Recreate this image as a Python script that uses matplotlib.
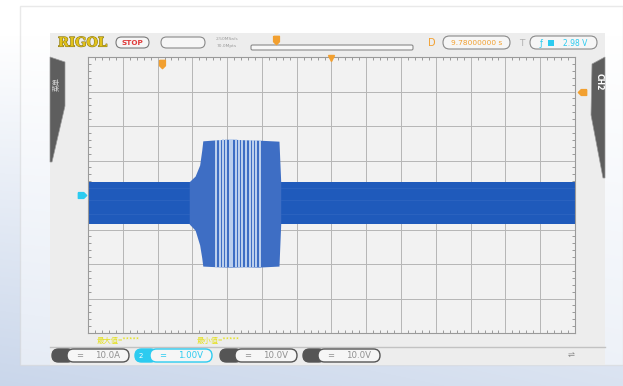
import numpy as np
import matplotlib
matplotlib.use("Agg")
import matplotlib.pyplot as plt
from matplotlib.patches import FancyBboxPatch, Rectangle, Polygon
from matplotlib.path import Path
import matplotlib.patheffects as pe

plt.rcParams['font.family'] = ['DejaVu Sans', 'Noto Sans CJK SC']

W, H = 623, 386

# ------------------------------------------------------------
# screen data (divisions; CH2 at 1.00 V/div)
# ------------------------------------------------------------
h_divs = 14
v_divs = 8
ch2_scale = 1.00

# CH2 trace band outside the burst
band_top = 0.385
band_bot = -0.84

# burst envelope: time (div from trigger), top / bottom (div)
burst_t = [-4.09, -3.92, -3.79, -3.73, -3.70, -3.30, -2.90, -2.50, -2.10, -1.70, -1.51, -1.46]
burst_top = [0.385, 0.55, 0.87, 1.30, 1.57, 1.60, 1.62, 1.60, 1.59, 1.57, 1.56, 0.385]
burst_bot = [-0.84, -1.02, -1.45, -1.82, -2.06, -2.08, -2.09, -2.08, -2.09, -2.07, -2.06, -0.84]

# light gaps between cycles in the middle of the burst
gap_t = [-3.31, -3.21, -3.11, -3.02, -2.92, -2.85, -2.75, -2.66,
         -2.56, -2.46, -2.35, -2.25, -2.16, -2.06]

trig_level = 2.98   # V
ch2_offset = 0.0    # V
cursor_t = -4.87    # div

delay_text = "9.78000000 s"
rate_text = ["2.50MSa/s", "70.0Mpts"]
ch_boxes = ["10.0A", "1.00V", "10.0V", "10.0V"]
meas_text = ["最大值=*****", "最小值=*****"]

CYAN = '#2ccbf0'
ORANGE = '#f2a030'
BLUE_BAND = '#1f5abb'
BLUE_BURST = '#3e6ec4'

fig = plt.figure(figsize=(W / 100, H / 100), dpi=100)

# ------------------------------------------------------------
# background + instrument panel (pixel coordinates)
# ------------------------------------------------------------
bg = fig.add_axes([0, 0, 1, 1])
bg.set_xlim(0, W)
bg.set_ylim(H, 0)
bg.axis("off")

yy, xx = np.mgrid[0:H, 0:W]
w = np.clip(yy / H * 1.1 - 0.1, 0, 1) * (0.7 + 0.3 * (1 - xx / W))
c0 = np.array([1.0, 1.0, 1.0])
c1 = np.array([0.79, 0.84, 0.92])
grad = c0 + (c1 - c0) * w[..., None]
bg.imshow(grad, extent=[0, W, H, 0], aspect='auto', zorder=0)

bg.add_patch(Rectangle((20, 6), W - 20, 359, fc='white', alpha=0.5,
                       ec='#d4d4d4', lw=1.0, zorder=1))
bg.add_patch(Rectangle((50, 33), 555, 332, fc='#ededed', ec='none', zorder=2))
bg.plot([50, 605], [347, 347], color='#c2c2c2', lw=1.0, zorder=3)


def pill(x0, y0, x1, y1, ec='#8a8a8a', fc='#f6f6f6', lw=0.8, z=3):
    r = (y1 - y0) / 2
    bg.add_patch(FancyBboxPatch((x0, y0), x1 - x0, y1 - y0,
                                boxstyle=f"round,pad=0,rounding_size={r}",
                                ec=ec, fc=fc, lw=lw, zorder=z))


def pointer(direction):
    if direction == 'right':
        v = [(-1, 0.7), (0.3, 0.7), (1, 0), (0.3, -0.7), (-1, -0.7), (-1, 0.7)]
    elif direction == 'left':
        v = [(1, 0.7), (-0.3, 0.7), (-1, 0), (-0.3, -0.7), (1, -0.7), (1, 0.7)]
    else:
        v = [(-0.7, 1), (0.7, 1), (0.7, -0.3), (0, -1), (-0.7, -0.3), (-0.7, 1)]
    return Path(v)


# header
bg.text(58, 43, "RIGOL", fontfamily='DejaVu Serif', fontweight='bold', fontsize=9.5,
        color='#e2c21a', va='center', ha='left', zorder=4,
        path_effects=[pe.withStroke(linewidth=0.8, foreground='#8a7a20')])
pill(116, 37, 149, 48, ec='#7a7a7a')
bg.text(132.5, 42.8, "STOP", color='#e03a3a', fontsize=5.2, fontweight='bold',
        ha='center', va='center', zorder=4)
pill(161, 37, 205, 48)
bg.text(227, 39.5, rate_text[0], color='#9a9a9a', fontsize=3.2, ha='center', va='center', zorder=4)
bg.text(227, 45.5, rate_text[1], color='#9a9a9a', fontsize=3.2, ha='center', va='center', zorder=4)
bg.add_patch(FancyBboxPatch((251, 45), 162, 5, boxstyle="round,pad=0,rounding_size=1.5",
                            ec='#8a8a8a', fc='#f8f8f8', lw=0.8, zorder=3))
bg.plot(276, 40, marker=pointer('down'), ms=6, color=ORANGE, zorder=5)
bg.text(432, 43, "D", color=ORANGE, fontsize=7, ha='center', va='center', zorder=4)
pill(443, 36, 510, 49)
bg.text(476.5, 42.8, delay_text, color=ORANGE, fontsize=5.3, ha='center', va='center', zorder=4)
bg.text(522, 43, "T", color='#b0b0b0', fontsize=6.5, ha='center', va='center', zorder=4)
pill(530, 36, 597, 49)
bg.text(541, 43, "ƒ", color=CYAN, fontsize=6, ha='center', va='center', zorder=4)
bg.add_patch(Rectangle((548, 39.5), 6, 6, fc=CYAN, ec='none', zorder=4))
bg.text(575, 43, f"{trig_level:.2f} V", color=CYAN, fontsize=5.5, ha='center', va='center', zorder=4)

# side tabs
bg.add_patch(Polygon([(50, 57), (65, 62), (65, 106), (52, 162), (50, 162)],
                     closed=True, fc='#5e5e5e', ec='#9a9a9a', lw=0.5, zorder=3))
bg.text(57, 84, "菜单", rotation=90, color='#d6d6d6', fontsize=5,
        family=['Noto Sans CJK SC', 'DejaVu Sans'], ha='center', va='center', zorder=4)
bg.add_patch(Polygon([(592, 64), (605, 57), (605, 178), (603, 178), (591, 115)],
                     closed=True, fc='#5e5e5e', ec='#9a9a9a', lw=0.5, zorder=3))
bg.text(599, 82, "CH2", rotation=-90, color='white', fontsize=5.5, fontweight='bold',
        ha='center', va='center', zorder=4)

# measurement readouts
for x0, txt in zip([97, 197], meas_text):
    bg.text(x0, 341, txt, color='#e4e01a', fontsize=5.3, ha='left', va='center',
            family=['Noto Sans CJK SC', 'DejaVu Sans'], zorder=4)

# channel boxes
box_x = [52, 135, 220, 303]
for i, (x0, label) in enumerate(zip(box_x, ch_boxes)):
    active = (i == 1)
    cap = CYAN if active else '#555555'
    txt_c = CYAN if active else '#909090'
    pill(x0, 349, x0 + 22, 362, ec=cap, fc=cap, lw=1.0)
    pill(x0 + 15, 349, x0 + 77, 362, ec=cap, fc='#f6f6f6', lw=1.0, z=4)
    if active:
        bg.text(x0 + 6, 355.5, "2", color='white', fontsize=5, ha='center', va='center', zorder=5)
    bg.text(x0 + 28, 355.5, "=", color=txt_c, fontsize=6, ha='center', va='center', zorder=5)
    bg.text(x0 + 56, 355.5, label, color=txt_c, fontsize=6.2, ha='center', va='center', zorder=5)

bg.text(571, 355, "⇌", color='#8a8a8a', fontsize=6, ha='center', va='center', zorder=4)

# ------------------------------------------------------------
# waveform grid
# ------------------------------------------------------------
ax = fig.add_axes([88 / W, 1 - 333 / H, 487 / W, 276 / H], zorder=2)
ax.set_facecolor('#f2f2f2')
ax.set_xlim(-h_divs / 2, h_divs / 2)
ax.set_ylim(-v_divs / 2, v_divs / 2)
ax.set_xticks(np.arange(-h_divs // 2, h_divs // 2 + 1))
ax.set_yticks(np.arange(-v_divs // 2, v_divs // 2 + 1))
ax.set_xticks(np.arange(-h_divs / 2, h_divs / 2 + 0.01, 0.2), minor=True)
ax.set_yticks(np.arange(-v_divs / 2, v_divs / 2 + 0.01, 0.2), minor=True)
ax.grid(True, which='major', color='#b6b6b6', lw=0.7)
ax.tick_params(which='both', direction='in', top=True, right=True,
               labelbottom=False, labelleft=False, color='#8c8c8c', width=0.6)
ax.tick_params(which='major', length=0)
ax.tick_params(which='minor', length=2.5)
for s in ax.spines.values():
    s.set_color('#9a9a9a')
    s.set_linewidth(0.8)

# CH2 trace
ax.fill_between([-h_divs / 2, h_divs / 2], band_bot, band_top, color=BLUE_BAND, lw=0, zorder=2)
for v in [0.2, -0.15, -0.55]:
    ax.plot([-h_divs / 2, burst_t[0]], [v, v], color='#6f97d8', lw=0.5, alpha=0.2, zorder=2)
    ax.plot([burst_t[-1], h_divs / 2], [v, v], color='#6f97d8', lw=0.5, alpha=0.2, zorder=2)
ax.fill_between(burst_t, burst_bot, burst_top, color=BLUE_BURST, lw=0, zorder=3)
top_at = np.interp(gap_t, burst_t, burst_top)
bot_at = np.interp(gap_t, burst_t, burst_bot)
ax.vlines(gap_t, bot_at, top_at, color='#c4d6f0', lw=1.35, zorder=4)

# markers
ax.plot(-7.17, ch2_offset / ch2_scale, marker=pointer('right'), ms=6, color=CYAN,
        clip_on=False, zorder=6)
ax.plot(7.2, trig_level / ch2_scale, marker=pointer('left'), ms=6, color=ORANGE,
        clip_on=False, zorder=6)
ax.plot(cursor_t, 3.8, marker=pointer('down'), ms=6, color=ORANGE, clip_on=False, zorder=6)
ax.plot(0, 3.97, marker='v', ms=4, color=ORANGE, clip_on=False, zorder=6)

fig.savefig("out.png", dpi=100)
